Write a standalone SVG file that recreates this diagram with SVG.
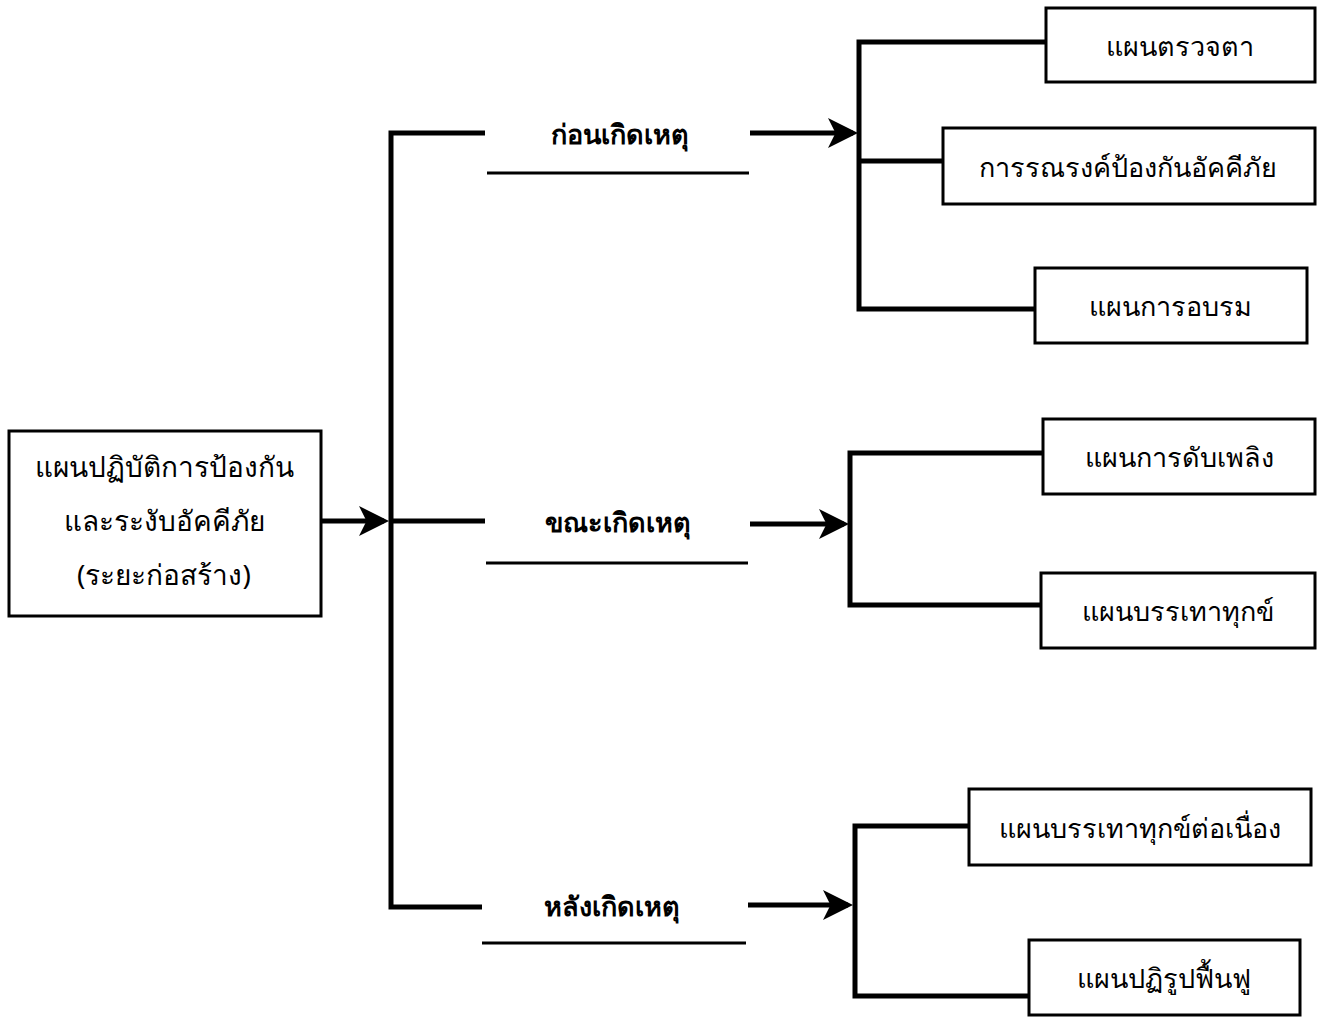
<svg xmlns="http://www.w3.org/2000/svg" width="1319" height="1017" viewBox="0 0 1319 1017">
<defs>
<style>
.box{fill:#fff;stroke:#000;stroke-width:3}
.ln{fill:none;stroke:#000;stroke-width:5}
.ul{fill:none;stroke:#000;stroke-width:3}
.t{font-family:"Noto Sans","DejaVu Sans",sans-serif;font-size:27px;fill:#000;text-anchor:middle;dominant-baseline:central}
.r{font-size:28px}
.p{font-weight:600}
</style>
<marker id="ah" markerWidth="6" markerHeight="6" refX="5" refY="3" orient="auto" markerUnits="strokeWidth">
<path d="M0,0 L6,3 L0,6 L1.5,3 Z" fill="#000"/>
</marker>
</defs>
<rect width="1319" height="1017" fill="#fff"/>
<g id="connectors">
<line class="ln" x1="321" y1="521" x2="384" y2="521" marker-end="url(#ah)"/>
<path class="ln" d="M485,133 H391 V907 H482"/>
<line class="ln" x1="391" y1="521" x2="485" y2="521"/>
<line class="ul" x1="487" y1="173" x2="749" y2="173"/>
<line class="ul" x1="486" y1="563" x2="748" y2="563"/>
<line class="ul" x1="482" y1="943" x2="746" y2="943"/>
<line class="ln" x1="750" y1="133" x2="853" y2="133" marker-end="url(#ah)"/>
<line class="ln" x1="750" y1="524" x2="844" y2="524" marker-end="url(#ah)"/>
<line class="ln" x1="748" y1="905" x2="848" y2="905" marker-end="url(#ah)"/>
<path class="ln" d="M1046,42 H859 V309 H1035"/>
<line class="ln" x1="859" y1="161" x2="943" y2="161"/>
<path class="ln" d="M1043,453 H850 V605 H1041"/>
<path class="ln" d="M969,826 H855 V996 H1029"/>
</g>
<g id="root">
<rect class="box" x="9" y="431" width="312" height="185"/>
<text class="t r" x="164" y="466">แผนปฏิบัติการป้องกัน</text>
<text class="t r" x="164" y="520">และระงับอัคคีภัย</text>
<text class="t r" x="164" y="574">(ระยะก่อสร้าง)</text>
</g>
<g id="phase-before"><text class="t p" x="620" y="133">ก่อนเกิดเหตุ</text></g>
<g id="phase-during"><text class="t p" x="618" y="521">ขณะเกิดเหตุ</text></g>
<g id="phase-after"><text class="t p" x="612" y="905">หลังเกิดเหตุ</text></g>
<g id="n1"><rect class="box" x="1046" y="8" width="269" height="74"/><text class="t" x="1180" y="45">แผนตรวจตา</text></g>
<g id="n2"><rect class="box" x="943" y="128" width="372" height="76"/><text class="t" x="1128" y="166">การรณรงค์ป้องกันอัคคีภัย</text></g>
<g id="n3"><rect class="box" x="1035" y="268" width="272" height="75"/><text class="t" x="1170" y="305">แผนการอบรม</text></g>
<g id="n4"><rect class="box" x="1043" y="419" width="272" height="75"/><text class="t" x="1179" y="456">แผนการดับเพลิง</text></g>
<g id="n5"><rect class="box" x="1041" y="573" width="274" height="75"/><text class="t" x="1178" y="610">แผนบรรเทาทุกข์</text></g>
<g id="n6"><rect class="box" x="969" y="789" width="342" height="76"/><text class="t" x="1140" y="827">แผนบรรเทาทุกข์ต่อเนื่อง</text></g>
<g id="n7"><rect class="box" x="1029" y="940" width="271" height="75"/><text class="t" x="1164" y="977">แผนปฏิรูปฟื้นฟู</text></g>
</svg>
